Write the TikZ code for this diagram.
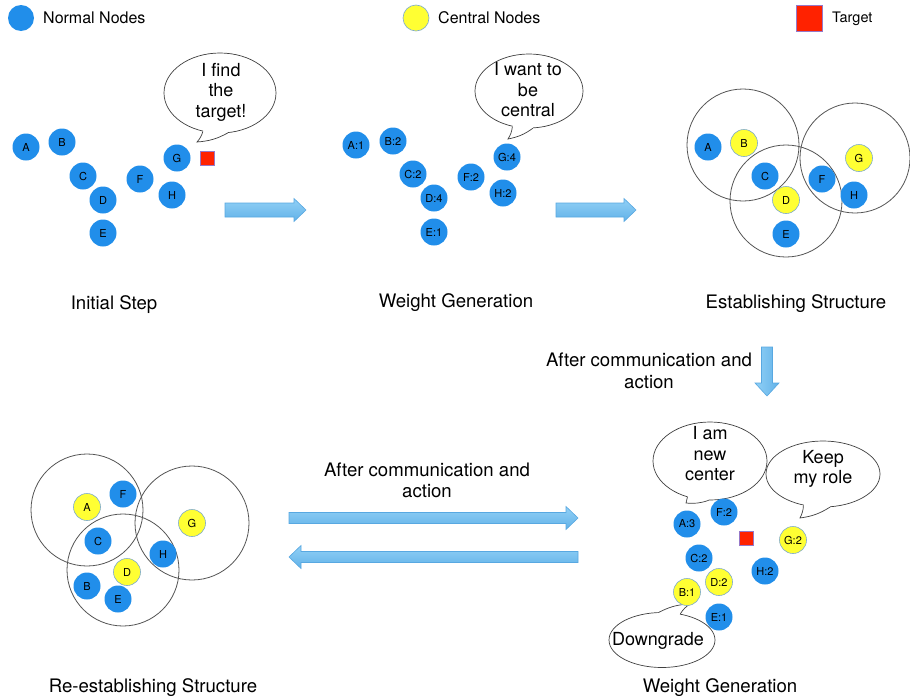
\documentclass[tikz,border=0pt]{standalone}
\usepackage{fontspec}
\setmainfont{TeX Gyre Heros}
\usetikzlibrary{shapes.geometric}
\definecolor{nblue}{RGB}{33,142,234}
\definecolor{nyel}{RGB}{255,255,51}
\definecolor{nyelb}{RGB}{125,170,205}
\definecolor{tred}{RGB}{255,34,0}
\definecolor{tredb}{RGB}{150,120,200}
\definecolor{grpc}{RGB}{85,85,85}
\definecolor{arrT}{RGB}{145,208,246}
\definecolor{arrBot}{RGB}{98,178,232}
\definecolor{arrB}{RGB}{88,168,225}
\newcommand{\bubtail}[4]{%
  \fill[white] (#1.center) -- (#1.#2) to[bend left=12] (#3) to[bend right=12] (#1.#4) -- cycle;
  \draw[tailline] (#1.#2) to[bend left=12] (#3) to[bend right=12] (#1.#4);}
\begin{document}
\begin{tikzpicture}[x=1pt,y=-1pt,
  nn/.style={circle,fill=nblue,minimum size=27pt,inner sep=0pt,font=\fontsize{11}{13}\selectfont},
  cn/.style={nn,fill=nyel,draw=nyelb,line width=0.6pt},
  tgt/.style={rectangle,fill=tred,draw=tredb,line width=0.5pt,minimum size=14pt,inner sep=0pt},
  grp/.style={circle,draw=grpc,line width=0.8pt,inner sep=0pt},
  bub/.style={ellipse,draw=black!75,fill=white,line width=0.7pt,inner sep=0pt},
  tailline/.style={draw=black!75,line width=0.7pt},
  btxt/.style={align=center,inner sep=0pt,font=\fontsize{18}{20.5}\selectfont},
  lbl/.style={anchor=base,inner sep=0pt,font=\fontsize{18.6}{22}\selectfont},
  leg/.style={anchor=west,inner sep=0pt,font=\fontsize{16}{19}\selectfont},
  fat/.style={draw=arrB,line width=0.6pt,top color=arrT,bottom color=arrBot},
  fatv/.style={draw=arrB,line width=0.6pt,left color=arrT,right color=arrBot},
]
\useasboundingbox[fill=white] (0,0) rectangle (910,699);

% ---------------- legend
\node[nn,minimum size=26pt] (legN) at (21,18) {};
\node[leg] (legNt) at (43,18) {Normal Nodes};
\node[cn,minimum size=26pt] (legC) at (416,18) {};
\node[leg] (legCt) at (438,18) {Central Nodes};
\node[tgt,minimum size=26pt] (legT) at (809,18) {};
\node[leg,font=\fontsize{14.5}{17}\selectfont] (legTt) at (832,19) {Target};

% ---------------- panel 1: Initial Step
\node[bub,minimum width=112pt,minimum height=80pt] (b1) at (220,93) {};
\bubtail{b1}{246}{197,142}{281}
\node[btxt] (t1) at (221,92) {I find\\the\\target!};
\node[nn] (p1A) at (26,147) {A};
\node[nn] (p1B) at (62,142) {B};
\node[nn] (p1C) at (83,176) {C};
\node[nn] (p1D) at (103,200) {D};
\node[nn] (p1E) at (103,233) {E};
\node[nn] (p1F) at (140,179) {F};
\node[nn] (p1G) at (177,158) {G};
\node[nn] (p1H) at (172,195) {H};
\node[tgt] (p1T) at (207,158) {};
\node[lbl] (l1) at (114,309) {Initial Step};

% arrow 1
\path[fat] (225,203) -- (294,203) -- (294,198.5) -- (306,210) -- (294,221.5) -- (294,217) -- (225,217) -- cycle;

% ---------------- panel 2: Weight Generation
\node[bub,minimum width=108pt,minimum height=74pt] (b2) at (529,91) {};
\bubtail{b2}{245}{508,139}{276}
\node[btxt] (t2) at (528,90) {I want to\\be\\central};
\node[nn] (p2A) at (356,145) {A:1};
\node[nn] (p2B) at (393,141) {B:2};
\node[nn] (p2C) at (413,174) {C:2};
\node[nn] (p2D) at (434,198) {D:4};
\node[nn] (p2E) at (434,232) {E:1};
\node[nn] (p2F) at (471,177) {F:2};
\node[nn] (p2G) at (507,157) {G:4};
\node[nn] (p2H) at (503,193) {H:2};
\node[lbl] (l2) at (456,307) {Weight Generation};

% arrow 2
\path[fat] (556,203) -- (624,203) -- (624,198.5) -- (636,210) -- (624,221.5) -- (624,217) -- (556,217) -- cycle;

% ---------------- panel 3: Establishing Structure
\node[grp,minimum size=112pt] (g31) at (743,145) {};
\node[grp,minimum size=112pt] (g32) at (786,201) {};
\node[grp,minimum size=110pt] (g33) at (855,158) {};
\node[nn] (p3A) at (708,147) {A};
\node[cn] (p3B) at (744,143) {B};
\node[nn] (p3C) at (765,176) {C};
\node[cn] (p3D) at (786,200) {D};
\node[nn] (p3E) at (786,234) {E};
\node[nn] (p3F) at (822,179) {F};
\node[cn] (p3G) at (859,158) {G};
\node[nn] (p3H) at (854,195) {H};
\node[lbl] (l3) at (796,308) {Establishing Structure};

% down arrow
\node[lbl] (c1a) at (649,366) {After communication and};
\node[lbl] (c1b) at (649,388) {action};
\path[fatv] (761.5,347) -- (761.5,383) -- (755,383) -- (767,396) -- (779,383) -- (772.5,383) -- (772.5,347) -- cycle;

% ---------------- panel 4: Weight Generation (bottom right)
\node[bub,minimum width=114pt,minimum height=78pt] (b3) at (710,461) {};
\bubtail{b3}{238}{686,503}{268}
\node[btxt] (t3) at (710,454) {I am\\new\\center};
\node[bub,minimum width=114pt,minimum height=66pt] (b4) at (823,474) {};
\bubtail{b4}{238}{800,518}{282}
\node[btxt] (t4) at (823,469) {Keep\\my role};
\node[bub,minimum width=106pt,minimum height=55pt] (b5) at (662,640) {};
\bubtail{b5}{96}{690,604}{55}
\node[btxt] (t5) at (658,641) {Downgrade};
\node[nn] (p4A) at (687,524) {A:3};
\node[nn] (p4F) at (724,512) {F:2};
\node[tgt] (p4T) at (746,538) {};
\node[cn] (p4G) at (793,540) {G:2};
\node[nn] (p4C) at (699,558) {C:2};
\node[nn] (p4H) at (765,571) {H:2};
\node[cn] (p4D) at (719,582) {D:2};
\node[cn] (p4B) at (687,592) {B:1};
\node[nn] (p4E) at (719,617) {E:1};
\node[lbl] (l4) at (720,692) {Weight Generation};

% middle arrows
\node[lbl] (c2a) at (427,476) {After communication and};
\node[lbl] (c2b) at (427,497) {action};
\path[fat] (289,512.5) -- (566,512.5) -- (566,506.5) -- (578,518) -- (566,529.5) -- (566,523.5) -- (289,523.5) -- cycle;
\path[fat] (578,551.5) -- (301,551.5) -- (301,545.5) -- (289,557) -- (301,568.5) -- (301,562.5) -- (578,562.5) -- cycle;

% ---------------- panel 5: Re-establishing Structure
\node[grp,minimum size=112pt] (g51) at (87,510) {};
\node[grp,minimum size=114pt] (g52) at (192,523) {};
\node[grp,minimum size=112pt] (g53) at (123,570) {};
\node[cn] (p5A) at (87,507) {A};
\node[nn] (p5F) at (123,494) {F};
\node[cn] (p5G) at (192,523) {G};
\node[nn] (p5C) at (98,541) {C};
\node[nn] (p5H) at (163,554) {H};
\node[cn] (p5D) at (127,572) {D};
\node[nn] (p5B) at (87,586) {B};
\node[nn] (p5E) at (118,599) {E};
\node[lbl] (l5) at (153,692) {Re-establishing Structure};
\end{tikzpicture}
\end{document}
